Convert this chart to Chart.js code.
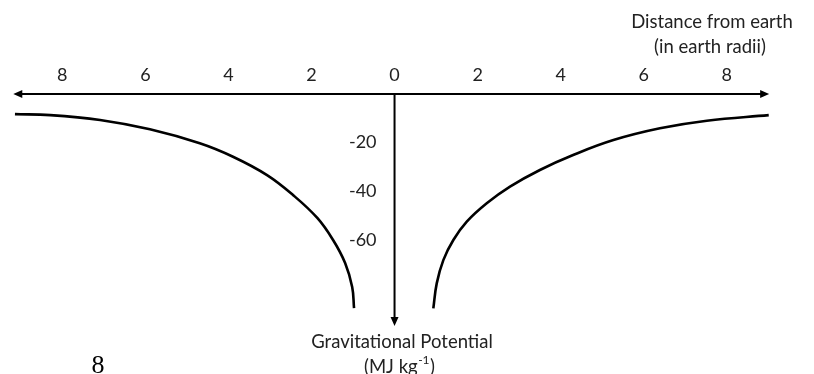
<!DOCTYPE html>
<html>
<head>
<meta charset="utf-8">
<script src="https://cdn.jsdelivr.net/npm/chart.js@4"></script>
<style>
  html, body { margin: 0; padding: 0; background: #fff; }
  #wrap { width: 814px; height: 374px; position: relative; }
</style>
</head>
<body>
<div id="wrap"><canvas id="myChart"></canvas></div>
<script>
// distance from earth (earth radii) and potential (MJ/kg)
const leftDist = [-9.14, -8.29, -7.09, -5.89, -4.69, -3.89, -3.07, -2.44, -1.86, -1.48, -1.19, -1.02, -0.975];
const leftPotential = [-8.2, -8.6, -10.6, -14.4, -20.1, -25.6, -33.1, -41.3, -50.6, -59.6, -69.0, -78.8, -87.4];
const rightDist = [0.934, 1.016, 1.175, 1.416, 1.739, 2.22, 2.78, 3.50, 4.30, 5.27, 6.39, 7.52, 9.01];
const rightPotential = [-87.5, -77.3, -67.8, -59.6, -52.1, -44.6, -37.8, -31.0, -24.9, -18.8, -14.0, -10.9, -8.6];

const xTicks = [-8, -6, -4, -2, 0, 2, 4, 6, 8];
const yTicks = [-20, -40, -60];
const axisLeft = -9.18, axisRight = 9.02, axisBottom = -94.7;

const toPoints = (xs, ys) => xs.map((v, i) => ({x: v, y: ys[i]}));

// draw the crossed arrows, tick labels and titles
const axesPlugin = {
  id: 'axes',
  afterDatasetsDraw(chart) {
    const {ctx, scales: {x, y}} = chart;
    const x0 = x.getPixelForValue(0), y0 = y.getPixelForValue(0);
    const xl = x.getPixelForValue(axisLeft), xr = x.getPixelForValue(axisRight);
    const yb = y.getPixelForValue(axisBottom);
    ctx.save();
    ctx.strokeStyle = '#000';
    ctx.fillStyle = '#000';
    ctx.lineWidth = 2;

    ctx.beginPath();
    ctx.moveTo(xl + 6, y0);
    ctx.lineTo(xr - 6, y0);
    ctx.moveTo(x0, y0);
    ctx.lineTo(x0, yb - 6);
    ctx.stroke();

    // arrow heads
    ctx.beginPath();
    ctx.moveTo(xl, y0); ctx.lineTo(xl + 9, y0 - 4); ctx.lineTo(xl + 9, y0 + 4); ctx.closePath();
    ctx.moveTo(xr, y0); ctx.lineTo(xr - 9, y0 - 4); ctx.lineTo(xr - 9, y0 + 4); ctx.closePath();
    ctx.moveTo(x0, yb); ctx.lineTo(x0 - 4, yb - 9); ctx.lineTo(x0 + 4, yb - 9); ctx.closePath();
    ctx.fill();

    ctx.fillStyle = '#222';
    ctx.font = '18px Lato';
    ctx.textAlign = 'center';
    ctx.textBaseline = 'middle';
    xTicks.forEach(v => {
      ctx.fillText(String(Math.abs(v)), x.getPixelForValue(v), y0 - 19);
    });
    ctx.textAlign = 'right';
    yTicks.forEach(v => {
      ctx.fillText(String(v), x0 - 18, y.getPixelForValue(v) - 1);
    });

    ctx.font = '18.5px Lato';
    ctx.textAlign = 'center';
    ctx.fillText('Distance from earth', 712, 22);
    ctx.fillText('(in earth radii)', 710, 47);
    ctx.fillText('Gravitational Potential', 402, 342);

    // (MJ kg⁻¹) with a small superscript
    const a = '(MJ kg', sup = '-1', b = ')';
    ctx.font = '18.5px Lato';
    const wa = ctx.measureText(a).width, wb = ctx.measureText(b).width;
    ctx.font = '12px Lato';
    const ws = ctx.measureText(sup).width;
    let sx = 399 - (wa + ws + wb) / 2;
    ctx.textAlign = 'left';
    ctx.font = '18.5px Lato';
    ctx.fillText(a, sx, 367);
    ctx.font = '12px Lato';
    ctx.fillText(sup, sx + wa + 0.5, 360);
    ctx.font = '18.5px Lato';
    ctx.fillText(b, sx + wa + ws + 1, 367);

    // stray serif "8" at the bottom left
    ctx.fillStyle = '#000';
    ctx.font = '26px "Liberation Serif"';
    ctx.textAlign = 'center';
    ctx.textBaseline = 'alphabetic';
    ctx.fillText('8', 98, 373);
    ctx.restore();
  }
};

const ctx = document.getElementById('myChart').getContext('2d');

const myChart = new Chart(ctx, {
  type: 'scatter',
  data: {
    datasets: [{
      data: toPoints(leftDist, leftPotential)
    }, {
      data: toPoints(rightDist, rightPotential)
    }]
  },
  options: {
    responsive: true,
    maintainAspectRatio: false,
    animation: false,
    layout: { padding: 0 },
    plugins: {
      legend: { display: false },
      tooltip: { enabled: false }
    },
    elements: {
      line: {
        borderColor: '#000',
        borderWidth: 2.6,
        tension: 0.4,
        capBezierPoints: false
      },
      point: { radius: 0, hoverRadius: 0 }
    },
    datasets: {
      scatter: { showLine: true, clip: false }
    },
    scales: {
      x: { type: 'linear', min: -9.5, max: 10.1, display: false },
      y: { type: 'linear', min: -114.3, max: 38.4, display: false }
    }
  },
  plugins: [axesPlugin]
});
</script>
</body>
</html>
